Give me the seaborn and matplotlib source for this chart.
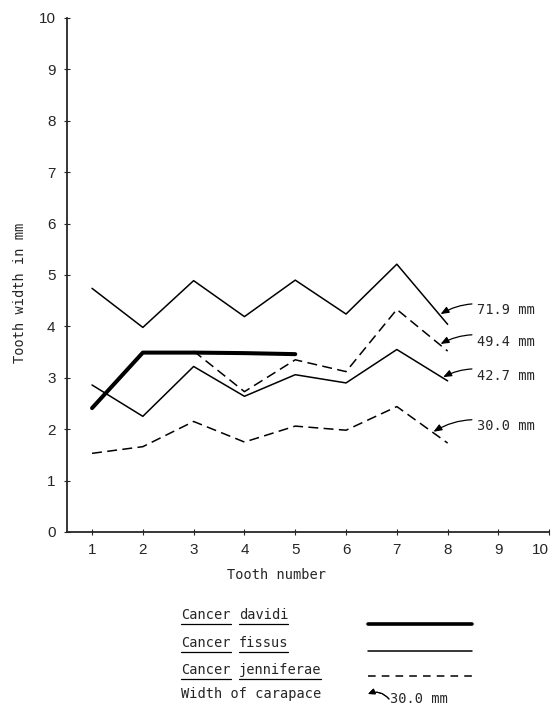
import numpy as np
import matplotlib
matplotlib.use("Agg")
import matplotlib.pyplot as plt
from matplotlib.lines import Line2D
import seaborn as sns

# tooth width (mm) by tooth number, one curve per crab
teeth = [1, 2, 3, 4, 5, 6, 7, 8]
davidi_teeth = [1, 2, 3, 4, 5]
davidi = [2.41, 3.49, 3.49, 3.48, 3.46]
fissus_719 = [4.74, 3.98, 4.89, 4.19, 4.90, 4.24, 5.21, 4.04]
fissus_427 = [2.86, 2.25, 3.22, 2.64, 3.06, 2.90, 3.55, 2.94]
jenn_teeth = [3, 4, 5, 6, 7, 8]
jenn_494 = [3.52, 2.73, 3.35, 3.12, 4.33, 3.52]
jenn_300 = [1.53, 1.66, 2.15, 1.75, 2.06, 1.98, 2.44, 1.73]

# carapace width labels: (text, series x, series y, where the arrow lands, label y)
carapace = [
    ("71.9 mm", teeth, fissus_719, 7.83, 4.32),
    ("49.4 mm", jenn_teeth, jenn_494, 7.83, 3.70),
    ("42.7 mm", teeth, fissus_427, 7.88, 3.03),
    ("30.0 mm", teeth, jenn_300, 7.69, 2.06),
]

legend_names = [("Cancer", "davidi"), ("Cancer", "fissus"), ("Cancer", "jenniferae")]

sns.set_style("ticks")
FONT = ["DejaVu Sans Mono"]
plt.rcParams["font.family"] = FONT
plt.rcParams["font.size"] = 9.8

THIN = 1.1
DASH = (0, (6.5, 3.5))

fig = plt.figure(figsize=(5.53, 7.08), dpi=100)
ax = fig.add_axes([0.1205, 0.2486, 0.8727, 0.726])

sns.lineplot(x=teeth, y=fissus_719, ax=ax, color="black", lw=THIN)
sns.lineplot(x=teeth, y=fissus_427, ax=ax, color="black", lw=THIN)
sns.lineplot(x=jenn_teeth, y=jenn_494, ax=ax, color="black", lw=THIN, linestyle=DASH)
sns.lineplot(x=teeth, y=jenn_300, ax=ax, color="black", lw=THIN, linestyle=DASH)
sns.lineplot(x=davidi_teeth, y=davidi, ax=ax, color="black", lw=2.9)

for text, xs, ys, tip_x, ty in carapace:
    tip_y = np.interp(tip_x, xs, ys)
    ax.annotate(text, xy=(tip_x + 0.03, tip_y), xytext=(8.57, ty),
                ha="left", va="center", fontsize=9.8,
                arrowprops=dict(arrowstyle="-|>,head_length=0.5,head_width=0.2",
                                color="black", lw=0.9, shrinkA=1, shrinkB=0,
                                connectionstyle="arc3,rad=0.25"))

ax.set_xlim(0.5, 10)
ax.set_ylim(0, 10)
ax.set_xticks(range(1, 11))
ax.set_yticks(range(0, 11))
ax.tick_params(direction="inout", length=4, width=0.8, pad=6, labelsize=11)
for lab in ax.get_xticklabels() + ax.get_yticklabels():
    lab.set_fontfamily("Liberation Sans")
ax.get_xticklabels()[-1].set_horizontalalignment("right")
sns.despine(ax=ax)
for s in ("left", "bottom"):
    ax.spines[s].set_linewidth(1.3)

ax.set_xlabel("Tooth number", va="center")
ax.set_ylabel("Tooth width in mm", va="center")
ax.xaxis.set_label_coords(0.435, -0.084)
ax.yaxis.set_label_coords(-0.097, 0.465)

# legend block under the chart, drawn in figure pixels
W, H = 553, 708
fig.canvas.draw()
renderer = fig.canvas.get_renderer()


def underline(t, y_ul):
    bb = t.get_window_extent(renderer)
    fig.add_artist(Line2D([bb.x0 / W, bb.x1 / W], [(H - y_ul) / H] * 2,
                          color="black", lw=0.9))


row_y = [615, 643, 670]
for (genus, species), y in zip(legend_names, row_y):
    t1 = fig.text(181 / W, (H - y) / H, genus, ha="left", va="center")
    bb = t1.get_window_extent(renderer)
    t2 = fig.text(bb.x1 / W + 8.4 / W, (H - y) / H, species, ha="left", va="center")
    underline(t1, y + 9)
    underline(t2, y + 9)

sample_y = [624, 651, 676]
styles = [dict(lw=2.6), dict(lw=THIN), dict(lw=THIN, linestyle=(0, (5, 4)))]
for y, st in zip(sample_y, styles):
    fig.add_artist(Line2D([368 / W, 472 / W], [(H - y) / H] * 2, color="black", **st))

fig.text(181 / W, (H - 694) / H, "Width of carapace", ha="left", va="center")
fig.text(390 / W, (H - 699) / H, "30.0 mm", ha="left", va="center")
fig.add_artist(plt.annotate("", xy=(368 / W, (H - 694) / H), xytext=(389 / W, (H - 699) / H),
                            xycoords="figure fraction", textcoords="figure fraction",
                            arrowprops=dict(arrowstyle="-|>,head_length=0.4,head_width=0.18",
                                            color="black", lw=0.8, shrinkA=0, shrinkB=0,
                                            connectionstyle="arc3,rad=0.35")))

fig.savefig("out.png", dpi=100)
